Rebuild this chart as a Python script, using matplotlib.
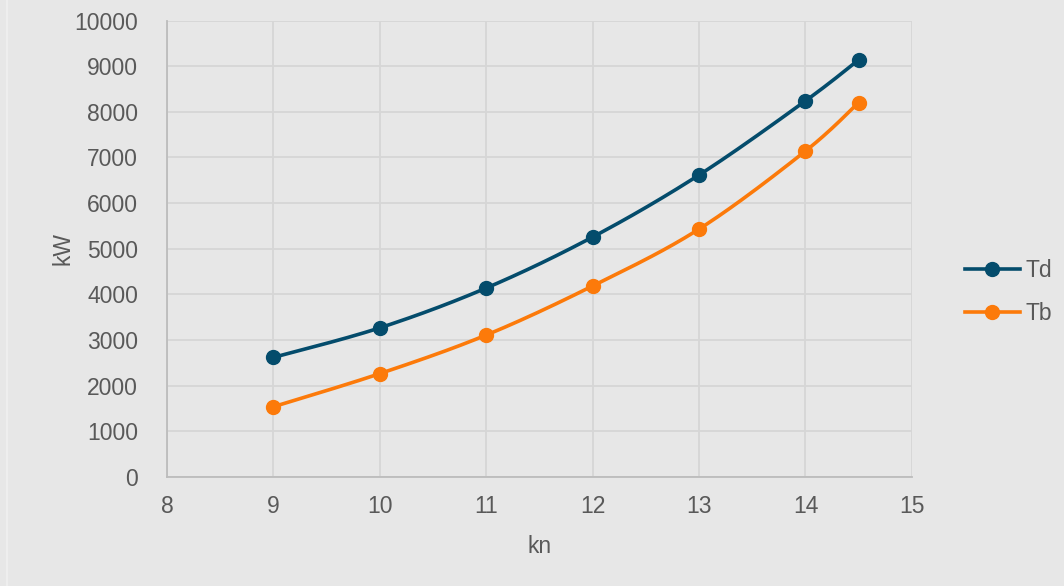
import numpy as np
import matplotlib.pyplot as plt
from matplotlib.lines import Line2D

plt.rcParams['font.family'] = ['Liberation Sans', 'DejaVu Sans']

# speed (kn) and power (kW)
kn = [9, 10, 11, 12, 13, 14, 14.5]
td = [2620, 3268, 4140, 5257, 6616, 8239, 9138]
tb = [1540, 2265, 3110, 4185, 5431, 7140, 8202]

c_td = '#044c6c'
c_tb = '#fc7a0a'
bg = '#e7e7e7'
txt = '#595959'


def smooth(x, y, n=30):
    # Bezier smoothing through the points, similar to spreadsheet "smoothed line"
    x = np.asarray(x, float)
    y = np.asarray(y, float)
    px = np.concatenate([[x[0]], x, [x[-1]]])
    py = np.concatenate([[y[0]], y, [y[-1]]])
    xs, ys = [], []
    t = np.linspace(0, 1, n)
    for i in range(1, len(px) - 2):
        p0 = np.array([px[i], py[i]])
        p3 = np.array([px[i + 1], py[i + 1]])
        p1 = p0 + (np.array([px[i + 1], py[i + 1]]) - np.array([px[i - 1], py[i - 1]])) / 6
        p2 = p3 - (np.array([px[i + 2], py[i + 2]]) - np.array([px[i], py[i]])) / 6
        b = ((1 - t) ** 3)[:, None] * p0 + (3 * (1 - t) ** 2 * t)[:, None] * p1 \
            + (3 * (1 - t) * t ** 2)[:, None] * p2 + (t ** 3)[:, None] * p3
        xs.extend(b[:, 0])
        ys.extend(b[:, 1])
    return np.array(xs), np.array(ys)


fig = plt.figure(figsize=(10.64, 5.86), dpi=100, facecolor=bg)
ax = fig.add_axes([0.157, 0.186, 0.700, 0.779])
ax.set_facecolor(bg)

for y, c in ((td, c_td), (tb, c_tb)):
    sx, sy = smooth(kn, y)
    ax.plot(sx, sy, color=c, lw=2.6, solid_capstyle='round', zorder=3)
    ax.plot(kn, y, 'o', color=c, ms=10, zorder=4)

ax.set_xlim(8, 15)
ax.set_ylim(0, 10000)
ax.set_xticks(range(8, 16))
ax.set_yticks(range(0, 10001, 1000))
ax.grid(True, color='#d6d6d6', lw=1.3)
ax.set_axisbelow(True)
for s in ('top', 'right'):
    ax.spines[s].set_visible(False)
for s in ('left', 'bottom'):
    ax.spines[s].set_color('#bcbcbc')
    ax.spines[s].set_linewidth(1.3)
ax.tick_params(length=0, labelsize=16.5, labelcolor=txt)
ax.tick_params(axis='y', pad=21)
ax.tick_params(axis='x', pad=13)
ax.set_xlabel('kn', fontsize=16.5, color=txt, labelpad=12)
ax.set_ylabel('kW', fontsize=16.5, color=txt, labelpad=0)

handles = [Line2D([], [], color=c_td, lw=2.6, marker='o', ms=10),
           Line2D([], [], color=c_tb, lw=2.6, marker='o', ms=10)]
leg = fig.legend(handles, ['Td', 'Tb'], loc='center left',
                 bbox_to_anchor=(0.898, 0.502), frameon=False,
                 fontsize=16.5, handlelength=2.4, handletextpad=0.25,
                 labelspacing=0.85, borderaxespad=0)
for t in leg.get_texts():
    t.set_color(txt)

# thin border line at left edge
fig.add_artist(Line2D([0.0066, 0.0066], [0, 1], color='#eeeeee', lw=1.5,
                      transform=fig.transFigure))

fig.savefig('out.png', dpi=100, facecolor=bg)
